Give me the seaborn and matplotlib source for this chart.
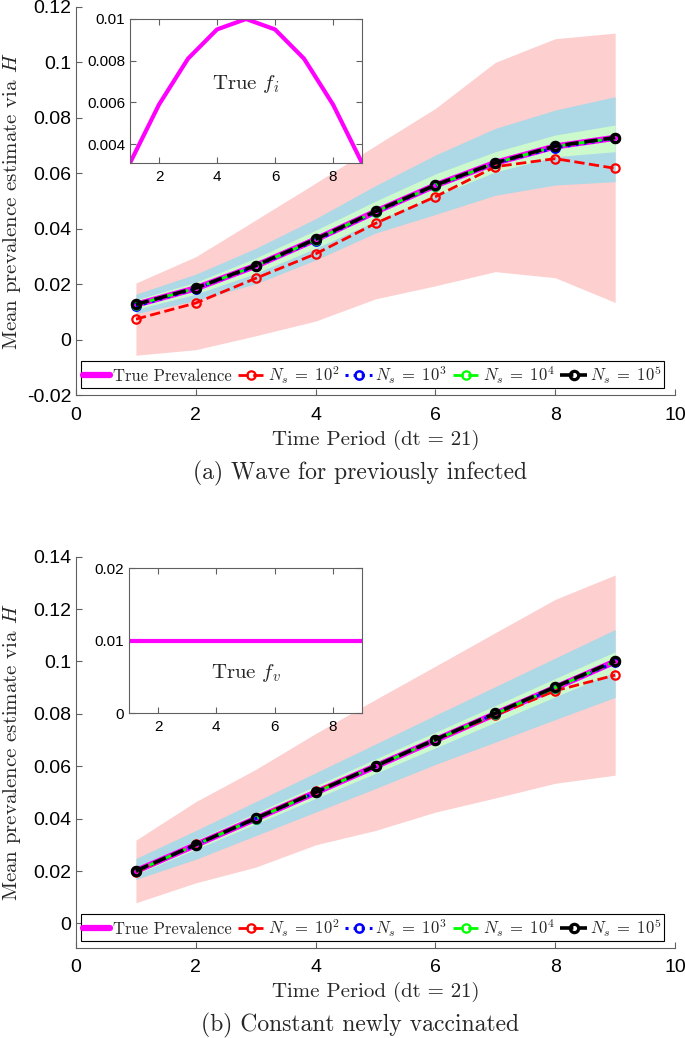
import matplotlib
matplotlib.use("Agg")
from matplotlib import pyplot as plt
from matplotlib.ticker import FormatStrFormatter
import seaborn as sns

periods = [1, 2, 3, 4, 5, 6, 7, 8, 9]

# (a) wave for previously infected
true_a = [0.0127, 0.0186, 0.0267, 0.0362, 0.0462, 0.0557, 0.0638, 0.0697, 0.0728]
ns2_a = [0.0075, 0.0133, 0.0222, 0.0310, 0.0420, 0.0516, 0.0624, 0.0653, 0.0618]
ns3_a = [0.0122, 0.0184, 0.0265, 0.0358, 0.0460, 0.0555, 0.0636, 0.0692, 0.0726]
ns4_a = [0.0127, 0.0186, 0.0267, 0.0361, 0.0462, 0.0556, 0.0637, 0.0697, 0.0727]
ns5_a = [0.0128, 0.0187, 0.0268, 0.0363, 0.0463, 0.0558, 0.0638, 0.0698, 0.0729]
pink_lo_a = [-0.0055, -0.0035, 0.0015, 0.0068, 0.0148, 0.0195, 0.0246, 0.0224, 0.0135]
pink_hi_a = [0.0205, 0.0300, 0.0432, 0.0565, 0.0700, 0.0834, 0.1000, 0.1085, 0.1105]
blue_lo_a = [0.0095, 0.0142, 0.0202, 0.0288, 0.0385, 0.0452, 0.0521, 0.0558, 0.0570]
blue_hi_a = [0.0165, 0.0237, 0.0330, 0.0437, 0.0556, 0.0666, 0.0762, 0.0828, 0.0876]
green_lo_a = [0.0110, 0.0165, 0.0240, 0.0330, 0.0428, 0.0518, 0.0605, 0.0660, 0.0678]
green_hi_a = [0.0145, 0.0208, 0.0295, 0.0395, 0.0500, 0.0598, 0.0678, 0.0738, 0.0774]
f_i = [0.0031, 0.0059, 0.0081, 0.0095, 0.0100, 0.0095, 0.0081, 0.0059, 0.0031]

# (b) constant newly vaccinated
true_b = [0.0200, 0.0300, 0.0400, 0.0500, 0.0600, 0.0700, 0.0800, 0.0900, 0.1000]
ns2_b = [0.0196, 0.0302, 0.0401, 0.0505, 0.0600, 0.0700, 0.0795, 0.0888, 0.0948]
ns3_b = [0.0199, 0.0300, 0.0400, 0.0500, 0.0600, 0.0700, 0.0800, 0.0899, 0.0997]
ns4_b = [0.0200, 0.0300, 0.0400, 0.0500, 0.0600, 0.0700, 0.0800, 0.0900, 0.1000]
ns5_b = [0.0201, 0.0301, 0.0401, 0.0501, 0.0601, 0.0702, 0.0802, 0.0903, 0.1002]
pink_lo_b = [0.0079, 0.0155, 0.0215, 0.0300, 0.0355, 0.0425, 0.0479, 0.0535, 0.0566]
pink_hi_b = [0.0318, 0.0465, 0.0588, 0.0725, 0.0855, 0.0982, 0.1110, 0.1237, 0.1330]
blue_lo_b = [0.0168, 0.0245, 0.0335, 0.0425, 0.0515, 0.0607, 0.0692, 0.0778, 0.0863]
blue_hi_b = [0.0248, 0.0355, 0.0465, 0.0575, 0.0685, 0.0795, 0.0904, 0.1013, 0.1122]
green_lo_b = [0.0187, 0.0283, 0.0380, 0.0477, 0.0573, 0.0670, 0.0768, 0.0865, 0.0961]
green_hi_b = [0.0215, 0.0318, 0.0422, 0.0525, 0.0628, 0.0730, 0.0832, 0.0935, 0.1037]
f_v = [0.01, 0.01, 0.01, 0.01, 0.01, 0.01, 0.01, 0.01, 0.01]

series_labels = [r"$N_s\;=\;10^2$", r"$N_s\;=\;10^3$", r"$N_s\;=\;10^4$", r"$N_s\;=\;10^5$"]

sns.set_style("white")
plt.rcParams["font.family"] = ["Liberation Sans", "DejaVu Sans"]
plt.rcParams["mathtext.fontset"] = "cm"
plt.rcParams["axes.unicode_minus"] = False

SERIF = "cmr10"
GREY = "#606060"

fig = plt.figure(figsize=(6.85, 10.38), dpi=100)


def style_axes(ax, box=False, size=14):
    for s in ["top", "right"]:
        ax.spines[s].set_visible(box)
    for s in ax.spines.values():
        s.set_color(GREY)
        s.set_linewidth(0.8)
    ax.tick_params(direction="in", length=4.5, width=0.8, color=GREY,
                   labelsize=size, labelcolor="black",
                   bottom=True, left=True, top=box, right=box)
    ax.tick_params(axis="x", pad=8 if not box else 5)
    ax.tick_params(axis="y", pad=3.5)
    ax.xaxis.set_major_formatter(FormatStrFormatter("%g"))
    ax.yaxis.set_major_formatter(FormatStrFormatter("%g"))


def panel(ax, true, runs, bands, ylim, yticks, xlab_y):
    for lo, hi, col in bands:
        ax.fill_between(periods, lo, hi, color=col, linewidth=0)
    sns.lineplot(x=periods, y=true, ax=ax, color="#ff00ff", linewidth=4.5,
                 label="True Prevalence", errorbar=None)
    styles = [("#ff0000", "--", 2.0, 1.6), ("#0000ff", ":", 2.2, 1.8),
              ("#00ff00", "--", 2.0, 1.6), ("black", "--", 2.6, 2.3)]
    for vals, lab, (col, ls, lw, mew) in zip(runs, series_labels, styles):
        sns.lineplot(x=periods, y=vals, ax=ax, color=col, linestyle=ls,
                     linewidth=lw, marker="o", markersize=6,
                     markerfacecolor="none", markeredgecolor=col,
                     markeredgewidth=mew, label=lab, errorbar=None)
    ax.set_xlim(0, 10)
    ax.set_xticks([0, 2, 4, 6, 8, 10])
    ax.set_ylim(*ylim)
    ax.set_yticks(yticks)
    style_axes(ax)
    ax.set_xlabel("Time Period (dt = 21)", fontsize=15, family=SERIF)
    ax.xaxis.set_label_coords(0.5, xlab_y)
    ax.xaxis.label.set_va("top")
    ax.set_ylabel("Mean prevalence estimate via $H$", fontsize=15, family=SERIF)
    ax.yaxis.set_label_coords(-0.088, 0.5)
    leg = ax.legend(loc="lower center", bbox_to_anchor=(0.495, 0.0185),
                    ncol=5, borderaxespad=0, fancybox=False,
                    framealpha=1, edgecolor="black", handlelength=1.6,
                    handletextpad=0.2, borderpad=0.15, columnspacing=0.35,
                    prop={"family": SERIF, "size": 12})
    leg.get_frame().set_linewidth(0.8)


# top panel
ax_a = fig.add_axes([0.111, 0.619, 0.8745, 0.3745])
panel(ax_a, true_a, [ns2_a, ns3_a, ns4_a, ns5_a],
      [(pink_lo_a, pink_hi_a, "#fdcfcf"), (blue_lo_a, blue_hi_a, "#add8e6"),
       (green_lo_a, green_hi_a, "#ccfacc")],
      (-0.02, 0.12), [-0.02, 0, 0.02, 0.04, 0.06, 0.08, 0.1, 0.12], -0.088)

ins_a = fig.add_axes([0.1898, 0.843, 0.3387, 0.1387])
ins_a.set_facecolor("white")
sns.lineplot(x=periods, y=f_i, ax=ins_a, color="#ff00ff", linewidth=3, errorbar=None)
ins_a.set_xlim(1, 9)
ins_a.set_ylim(0.0031, 0.0100)
ins_a.set_xticks([2, 4, 6, 8])
ins_a.set_yticks([0.004, 0.006, 0.008, 0.01])
style_axes(ins_a, box=True, size=11)
ins_a.text(5, 0.0069, "True $f_i$", ha="center", va="center", fontsize=15, family=SERIF)

# bottom panel
ax_b = fig.add_axes([0.111, 0.0864, 0.8745, 0.3773])
panel(ax_b, true_b, [ns2_b, ns3_b, ns4_b, ns5_b],
      [(pink_lo_b, pink_hi_b, "#fdcfcf"), (blue_lo_b, blue_hi_b, "#add8e6"),
       (green_lo_b, green_hi_b, "#ccfacc")],
      (-0.0095, 0.14), [0, 0.02, 0.04, 0.06, 0.08, 0.1, 0.12, 0.14], -0.085)

ins_b = fig.add_axes([0.1883, 0.3128, 0.3401, 0.1397])
ins_b.set_facecolor("white")
sns.lineplot(x=periods, y=f_v, ax=ins_b, color="#ff00ff", linewidth=3, errorbar=None)
ins_b.set_xlim(1, 9)
ins_b.set_ylim(0, 0.02)
ins_b.set_xticks([2, 4, 6, 8])
ins_b.set_yticks([0, 0.01, 0.02])
style_axes(ins_b, box=True, size=11)
ins_b.text(5, 0.0055, "True $f_v$", ha="center", va="center", fontsize=15, family=SERIF)

fig.text(0.526, 1 - 473 / 1038, "(a) Wave for previously infected",
         ha="center", va="center", fontsize=17, family=SERIF)
fig.text(0.526, 1 - 1025 / 1038, "(b) Constant newly vaccinated",
         ha="center", va="center", fontsize=17, family=SERIF)

fig.savefig("out.png", dpi=100)
